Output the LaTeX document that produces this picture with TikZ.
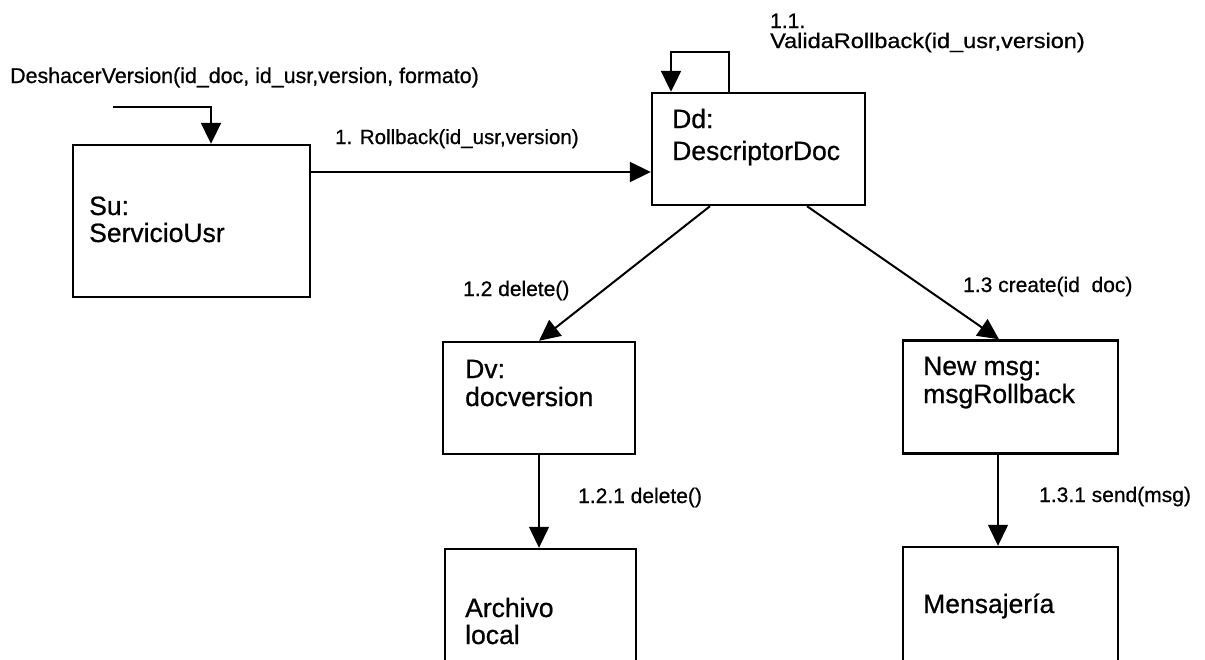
\documentclass[tikz,border=0pt]{standalone}
\usepackage{fontspec}
\usepackage{graphicx}
\setmainfont{Liberation Sans}
% slightly heavier face for the printed texts
\newfontfamily\printface{Liberation Sans}[FakeBold=0.7]
\usetikzlibrary{arrows.meta}

\begin{document}
\begin{tikzpicture}[x=1pt,y=-1pt,
  obj/.style={draw, line width=2.4pt, inner sep=0pt},
  objtxt/.style={anchor=base west, inner sep=0pt, font=\printface\fontsize{26.5}{30}\selectfont},
  lbl/.style={anchor=base west, inner sep=0pt, font=\printface\fontsize{21}{25}\selectfont},
  call/.style={line width=2pt, -{Triangle[length=21pt,width=20pt]}},
  thincall/.style={call, line width=1.3pt}]
\clip (0,0) rectangle (1205,659);
\fill[white] (0,0) rectangle (1205,659);

% objects of the collaboration
\node[obj, minimum width=237pt, minimum height=152pt] (su)   at (191.5,221) {};
\node[obj, minimum width=213pt, minimum height=112pt] (dd)   at (758.5,149) {};
\node[obj, minimum width=192pt, minimum height=112pt] (dv)   at (539,398)   {};
\node[obj, minimum width=215pt, minimum height=113pt] (msg)  at (1010.5,397) {};
\node[obj, minimum width=191pt, minimum height=150pt] (arch) at (540.5,624) {};
\node[obj, minimum width=215pt, minimum height=152pt] (mens) at (1010.5,623) {};

% object names
\node[objtxt] (su1)   at (89,215)  {Su:};
\node[objtxt] (su2)   at (89,242)  {ServicioUsr};
\node[objtxt] (dd1)   at (672,128) {Dd:};
\node[objtxt] (dd2)   at (672,160) {DescriptorDoc};
\node[objtxt] (dv1)   at (465,378) {Dv:};
\node[objtxt] (dv2)   at (465,406) {docversion};
\node[objtxt] (msg1)  at (923,375) {New msg:};
\node[objtxt] (msg2)  at (923,403) {msgRollback};
\node[objtxt] (arch1) at (465,617) {Archivo};
\node[objtxt] (arch2) at (465,644) {local};
\node[objtxt] (mens1) at (923,613) {Mensajería};

% messages
\coordinate (start) at (113,107);
\draw[call] (start) -| ([xshift=19.5pt]su.north);
\draw[call] (su.east |- 0,172) -- (dd.west |- 0,172);
\draw[call] ([xshift=-29.5pt]dd.north) -- ++(0,-40) -| ([xshift=-87.5pt]dd.north);
\draw[call] ([xshift=-48.5pt]dd.south) -- (dv.north);
\draw[call] ([xshift=48.5pt]dd.south) -- ([xshift=-11.5pt]msg.north);
\draw[thincall] (dv.south) -- (dv.south |- arch.north);
\draw[thincall] ([xshift=-12.5pt]msg.south) -- ([xshift=-12.5pt]msg.south |- mens.north);

% message labels
\node[lbl, font=\printface\fontsize{21.4}{25}\selectfont] (l0) at (10,83) {DeshacerVersion(id\_doc, id\_usr,version, formato)};
\node[lbl, font=\printface\fontsize{20.5}{25}\selectfont] (l1) at (335,144) {1. Rollback(id\_usr,version)};
\node[lbl] (l11a) at (770,28) {1.1.};
\node[lbl] (l11b) at (770,48) {\scalebox{1.12}[1]{ValidaRollback(id\_usr,version)}};
\node[lbl] (l12)  at (463,296) {1.2 delete()};
\node[lbl] (l13)  at (963,292) {1.3 create(id\phantom{\_}doc)};
\node[lbl] (l121) at (578,503) {1.2.1 delete()};
\node[lbl] (l131) at (1039,502) {1.3.1 send(msg)};
\end{tikzpicture}
\end{document}
